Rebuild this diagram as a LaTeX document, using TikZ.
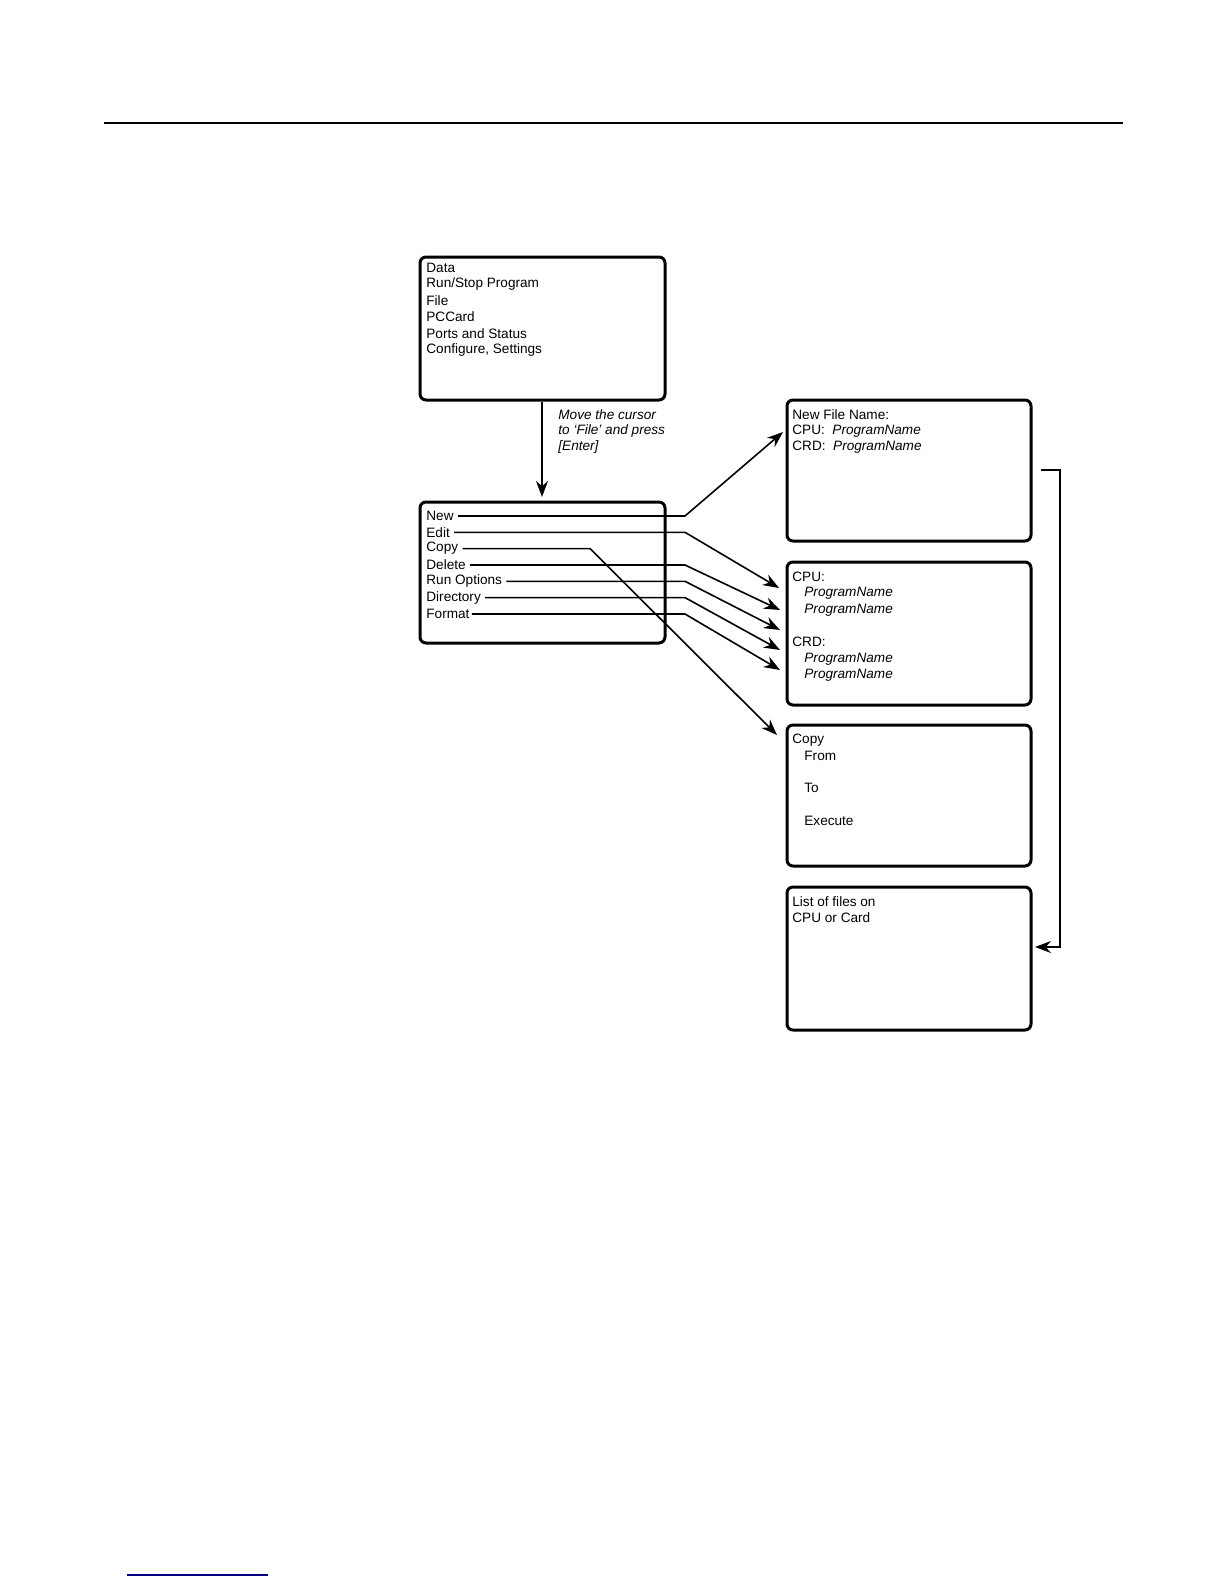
\documentclass[tikz,border=0pt]{standalone}
\usepackage{fontspec}
\setmainfont{Liberation Sans}
\usetikzlibrary{arrows.meta}

\begin{document}
\begin{tikzpicture}[x=0.5pt,y=-0.5pt,
    screen/.style={line width=1.5pt,rounded corners=3pt},
    item/.style={anchor=west,inner sep=0pt,font=\fontsize{6.8}{8}\selectfont},
    path/.style={line width=0.8pt,-{Stealth[length=8pt,width=6pt]}}]
    \useasboundingbox (0,0) rectangle (1224,1584);

    % header and footer rules
    \draw[line width=0.8pt] (104,123) -- (1123,123);
    \draw[blue!50!black,line width=0.6pt] (127,1575) -- (268,1575);

    % main menu
    \draw[screen] (420,257) rectangle (665,400);
    \foreach \t [count=\i] in {Data,Run/Stop Program,File,PCCard,Ports and Status,{Configure, Settings}}
        \node[item] (main\i) at (426,268+16.3*\i-16.3) {\t};

    % file menu
    \draw[screen] (420,502) rectangle (665,643);
    \node[item] (new) at (426,516) {New};
    \node[item] (edit) at (426,532.3) {Edit};
    \node[item] (copy) at (426,548.6) {Copy};
    \node[item] (delete) at (426,565) {Delete};
    \node[item] (runopt) at (426,581.3) {Run Options};
    \node[item] (dir) at (426,597.6) {Directory};
    \node[item] (format) at (426,614) {Format};

    \coordinate (mtop) at (542,402);
    \coordinate (ftop) at (542,497);
    \draw[path] (mtop) -- (ftop);
    \node[item,font=\fontsize{6.8}{8}\itshape] (hint) at (558,415) {Move the cursor};
    \node[item,font=\fontsize{6.8}{8}\itshape] (hint2) at (558,431) {to `File' and press};
    \node[item,font=\fontsize{6.8}{8}\itshape] (hint3) at (558,447) {[Enter]};

    % target screens
    \draw[screen] (787,400) rectangle (1031,541);
    \node[item] (nf1) at (792,415) {New File Name:};
    \node[item] (nf2) at (792,431) {CPU:\ \ \textit{ProgramName}};
    \node[item] (nf3) at (792,447) {CRD:\ \ \textit{ProgramName}};

    \draw[screen] (787,562) rectangle (1031,705);
    \node[item] (ed1) at (792,577) {CPU:};
    \node[item] (ed2) at (804,593) {\textit{ProgramName}};
    \node[item] (ed3) at (804,610) {\textit{ProgramName}};
    \node[item] (ed4) at (792,642) {CRD:};
    \node[item] (ed5) at (804,659) {\textit{ProgramName}};
    \node[item] (ed6) at (804,675) {\textit{ProgramName}};

    \draw[screen] (787,725) rectangle (1031,866);
    \node[item] (cp1) at (792,740) {Copy};
    \node[item] (cp2) at (804,756) {From};
    \node[item] (cp3) at (804,788) {To};
    \node[item] (cp4) at (804,821) {Execute};

    \draw[screen] (787,887) rectangle (1031,1030);
    \node[item] (ls1) at (792,902) {List of files on};
    \node[item] (ls2) at (792,918) {CPU or Card};

    % connectors
    \coordinate (tnew) at (783,432);
    \coordinate (tedit) at (779,588);
    \coordinate (tdel) at (780,610);
    \coordinate (trun) at (780,630);
    \coordinate (tdir) at (780,650);
    \coordinate (tfmt) at (780,670);
    \coordinate (tcopy) at (777,735);
    \draw[path] ([xshift=2pt]new.east) -- (685,516) -- (tnew);
    \draw[path] ([xshift=2pt]edit.east) -- (685,532.3) -- (tedit);
    \draw[path] ([xshift=2pt]delete.east) -- (685,565) -- (tdel);
    \draw[path] ([xshift=2pt]runopt.east) -- (685,581.3) -- (trun);
    \draw[path] ([xshift=2pt]dir.east) -- (685,597.6) -- (tdir);
    \draw[path] ([xshift=1pt]format.east) -- (685,614) -- (tfmt);
    \draw[path] ([xshift=2pt]copy.east) -- (590,548.6) -- (tcopy);

    \coordinate (bstart) at (1041,470);
    \coordinate (bend) at (1035,947);
    \draw[path] (bstart) -- (1060,470) -- (1060,947) -- (bend);
\end{tikzpicture}
\end{document}
